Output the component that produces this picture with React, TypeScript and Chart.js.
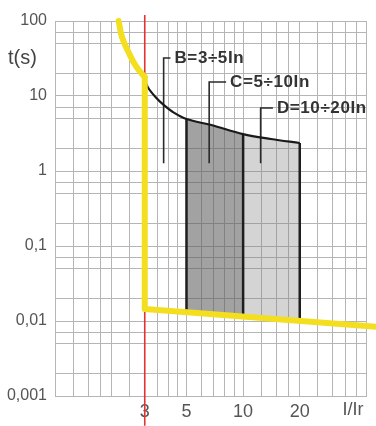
import React, { useEffect, useRef } from "react";
import { Chart, registerables } from "chart.js";

Chart.register(...registerables);

// grid lines (log-log paper)
const xGrid = [1, 1.25, 1.5, 1.75, 2, 2.5, 3, 3.5, 4, 4.5, 5, 6, 7, 8, 9, 10, 12.5, 15, 17.5, 20, 25, 30, 35, 40, 45];
const yGrid = [0.001, 0.002, 0.005, 0.007, 0.01, 0.02, 0.05, 0.07, 0.1, 0.2, 0.5, 0.7, 1, 2, 5, 7, 10, 20, 50, 70, 100];

// tick labels
const xTickValues = [3, 5, 10, 20];
const xTickLabels = ["3", "5", "10", "20"];
const yTickValues = [0.001, 0.01, 0.1, 1, 10, 100];
const yTickLabels = ["0,001", "0,01", "0,1", "1", "10", "100"];

// yellow curve (upstream device): curved upper part, then vertical drop and flat tail
const yellowCurveX = [2.18, 2.27, 2.47, 2.71, 3.0];
const yellowCurveT = [100, 61.2, 37.4, 24.4, 17.9];
const yellowTailX = [3.0, 3.0, 53.5];
const yellowTailT = [17.9, 0.0145, 0.0083];

// black tripping curve
const curveX = [2.3, 2.5, 2.74, 2.96, 3.11, 3.42, 3.78, 4.23, 5, 6.78, 10, 14.05, 20];
const curveT = [61.2, 37.4, 24.4, 17.9, 13.2, 9.7, 7.6, 6.12, 4.93, 4.1, 3.1, 2.67, 2.36];

// shaded zones C (5-10) and D (10-20)
const zoneCX = [5, 6.78, 10];
const zoneCTop = [4.93, 4.1, 3.1];
const zoneDX = [10, 14.05, 20];
const zoneDTop = [3.1, 2.67, 2.36];

// zone edges
const edgeX = [5, 10, 20];
const edgeTop = [4.93, 3.1, 2.36];
const edgeBottom = [0.013, 0.012, 0.0105];

// red marker line at I/Ir = 3
const redX = 3;
const redT = [120, 0.0004];

// bracket annotations
const bracketLabels = ["B=3÷5In", "C=5÷10In", "D=10÷20In"];
const bracketX = [3.78, 6.6, 12.39];
const bracketEndX = [4.11, 8.12, 14.4];
const bracketTop = [32.1, 15.4, 6.92];
const bracketBottom = [1.27, 1.27, 1.27];

const FONT = "'Liberation Sans', Arial, sans-serif";

const textPlugin = {
  id: "texts",
  afterDatasetsDraw(chart: any) {
    const { ctx, scales } = chart;
    const x = scales.x;
    const y = scales.y;
    ctx.save();
    ctx.fillStyle = "#333";
    ctx.font = `bold 17px ${FONT}`;
    ctx.textAlign = "left";
    ctx.textBaseline = "middle";
    try {
      (ctx as any).letterSpacing = "0.6px";
    } catch (e) {}
    bracketLabels.forEach((t, i) => {
      ctx.fillText(t, x.getPixelForValue(bracketEndX[i]) + 4, y.getPixelForValue(bracketTop[i]));
    });
    try {
      (ctx as any).letterSpacing = "0px";
    } catch (e) {}
    ctx.fillStyle = "#444";
    ctx.font = `20px ${FONT}`;
    ctx.fillText("t(s)", 8, 58);
    ctx.font = `18px ${FONT}`;
    ctx.textAlign = "center";
    ctx.fillStyle = "#555";
    ctx.fillText("I/Ir", 353, 410);
    ctx.restore();
  },
};

export default function App() {
  const ref = useRef<HTMLCanvasElement | null>(null);

  useEffect(() => {
    document.body.style.margin = "0";
    const pts = (xs: number[], ys: number[]) => xs.map((v, i) => ({ x: v, y: ys[i] }));

    const datasets: any[] = [];
    // zone C fill
    datasets.push({
      data: pts(zoneCX, zoneCTop),
      borderWidth: 0,
      borderColor: "rgba(0,0,0,0)",
      backgroundColor: "rgba(85,85,85,0.55)",
      fill: "+1",
      order: 10,
    });
    datasets.push({
      data: pts([edgeX[0], edgeX[1]], [edgeBottom[0], edgeBottom[1]]),
      borderWidth: 0,
      borderColor: "rgba(0,0,0,0)",
      fill: false,
      order: 10,
    });
    // zone D fill
    datasets.push({
      data: pts(zoneDX, zoneDTop),
      borderWidth: 0,
      borderColor: "rgba(0,0,0,0)",
      backgroundColor: "rgba(120,120,120,0.32)",
      fill: "+1",
      order: 10,
    });
    datasets.push({
      data: pts([edgeX[1], edgeX[2]], [edgeBottom[1], edgeBottom[2]]),
      borderWidth: 0,
      borderColor: "rgba(0,0,0,0)",
      fill: false,
      order: 10,
    });
    // zone edges
    edgeX.forEach((ex, i) => {
      datasets.push({
        data: [{ x: ex, y: edgeTop[i] }, { x: ex, y: edgeBottom[i] }],
        borderColor: "#1e1e1e",
        borderWidth: 2.5,
        fill: false,
        order: 4,
      });
    });
    // brackets
    bracketX.forEach((bx, i) => {
      datasets.push({
        data: [
          { x: bx, y: bracketBottom[i] },
          { x: bx, y: bracketTop[i] },
          { x: bracketEndX[i], y: bracketTop[i] },
        ],
        borderColor: "#2a2a2a",
        borderWidth: 1.6,
        fill: false,
        order: 4,
      });
    });
    // black curve
    datasets.push({
      data: pts(curveX, curveT),
      borderColor: "#1a1a1a",
      borderWidth: 2.2,
      tension: 0.35,
      fill: false,
      order: 3,
    });
    // red line
    datasets.push({
      data: [{ x: redX, y: redT[0] }, { x: redX, y: redT[1] }],
      borderColor: "#e2342f",
      borderWidth: 1.6,
      fill: false,
      clip: false,
      order: 2,
    });
    // yellow curve: upper bend
    datasets.push({
      data: pts(yellowCurveX, yellowCurveT),
      borderColor: "#f3df1f",
      borderWidth: 6,
      tension: 0.4,
      borderJoinStyle: "round",
      borderCapStyle: "round",
      fill: false,
      clip: false,
      order: 1,
    });
    // yellow curve: vertical drop and tail
    datasets.push({
      data: pts(yellowTailX, yellowTailT),
      borderColor: "#f3df1f",
      borderWidth: 6,
      borderJoinStyle: "round",
      borderCapStyle: "round",
      fill: false,
      clip: false,
      order: 1,
    });

    const gridColor = "#b5b5b5";
    const chart = new Chart(ref.current as HTMLCanvasElement, {
      type: "line",
      data: { datasets },
      plugins: [textPlugin],
      options: {
        animation: false,
        responsive: false,
        maintainAspectRatio: false,
        layout: { padding: { top: 21, right: 10, left: 0, bottom: 0 } },
        elements: { point: { radius: 0 } },
        plugins: { legend: { display: false }, tooltip: { enabled: false } },
        scales: {
          x: {
            type: "logarithmic",
            min: 1,
            max: 45,
            afterBuildTicks: (s: any) => {
              s.ticks = xGrid.map((v) => ({ value: v }));
            },
            afterFit: (s: any) => {
              s.height = 30;
            },
            grid: { color: gridColor, lineWidth: 1, drawTicks: false },
            border: { color: gridColor },
            ticks: {
              autoSkip: false,
              maxRotation: 0,
              padding: 5,
              color: "#555",
              font: { size: 18, family: FONT },
              callback: (v: any) => {
                const i = xTickValues.indexOf(Number(v));
                return i >= 0 ? xTickLabels[i] : "";
              },
            },
          },
          y: {
            type: "logarithmic",
            min: 0.001,
            max: 100,
            afterBuildTicks: (s: any) => {
              s.ticks = yGrid.map((v) => ({ value: v }));
            },
            afterFit: (s: any) => {
              s.width = 55;
            },
            grid: { color: gridColor, lineWidth: 1, drawTicks: false },
            border: { color: gridColor },
            ticks: {
              autoSkip: false,
              padding: 8,
              color: "#555",
              font: { size: 16, family: FONT },
              callback: (v: any) => {
                const i = yTickValues.findIndex((t) => Math.abs(t - Number(v)) < t * 1e-6);
                return i >= 0 ? yTickLabels[i] : "";
              },
            },
          },
        },
      } as any,
    });
    return () => chart.destroy();
  }, []);

  return (
    <div style={{ width: 376, height: 426, position: "relative" }}>
      <canvas ref={ref} width={376} height={426} style={{ display: "block" }} />
    </div>
  );
}
